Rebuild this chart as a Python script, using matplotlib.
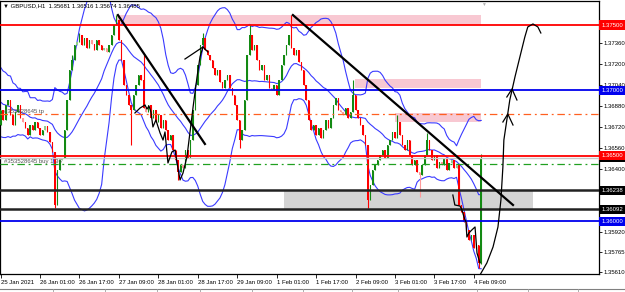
import numpy as np
import pandas as pd
import matplotlib.pyplot as plt
from matplotlib.patches import Rectangle
from matplotlib.lines import Line2D
import matplotlib.transforms as mtransforms

plt.rcParams['font.family'] = ['Liberation Sans', 'DejaVu Sans']

# GBPUSD H1 closes, 25 Jan 09:00 -> 4 Feb 12:00
closes = [
    1.36851, 1.36774, 1.36889, 1.36927, 1.36812, 1.36736, 1.36835, 1.36889, 1.36790, 1.36759,
    1.36713, 1.36660, 1.36736, 1.36698, 1.36759, 1.36713, 1.36660, 1.36698, 1.36728, 1.36683,
    1.36606, 1.36530, 1.36125, 1.36392, 1.36469, 1.36484, 1.36698, 1.36927, 1.37156, 1.37233,
    1.37347, 1.37370, 1.37424, 1.37347, 1.37401, 1.37324, 1.37385, 1.37355, 1.37309, 1.37385,
    1.37347, 1.37309, 1.37324, 1.37294, 1.37347, 1.37424, 1.37500, 1.37538, 1.37385, 1.37233,
    1.37042, 1.36965, 1.36889, 1.36851, 1.36965, 1.37042, 1.37118, 1.37080, 1.36866, 1.36835,
    1.36889, 1.36790, 1.36851, 1.36759, 1.36812, 1.36713, 1.36774, 1.36698, 1.36621, 1.36660,
    1.36545, 1.36469, 1.36377, 1.36430, 1.36408, 1.36545, 1.36484, 1.36621, 1.36851, 1.37042,
    1.37194, 1.37347, 1.37401, 1.37309, 1.37271, 1.37233, 1.37171, 1.37118, 1.37156, 1.37065,
    1.37019, 1.37080, 1.37118, 1.37019, 1.36965, 1.36889, 1.36774, 1.36621, 1.36698, 1.36927,
    1.37271, 1.37424, 1.37309, 1.37347, 1.37233, 1.37156, 1.37194, 1.37080, 1.37118, 1.37019,
    1.37003, 1.37042, 1.36965, 1.37080, 1.37194, 1.37271, 1.37347, 1.37424, 1.37324, 1.37271,
    1.37309, 1.37217, 1.37156, 1.37042, 1.36927, 1.36774, 1.36698, 1.36736, 1.36660, 1.36713,
    1.36637, 1.36698, 1.36774, 1.36713, 1.36790, 1.36889, 1.36942, 1.36851, 1.36835, 1.36812,
    1.36866, 1.36790, 1.36835, 1.36965, 1.36851, 1.36790, 1.36736, 1.36660, 1.36583, 1.36163,
    1.36278, 1.36392, 1.36430, 1.36469, 1.36507, 1.36545, 1.36484, 1.36583, 1.36621, 1.36683,
    1.36637, 1.36759, 1.36660, 1.36583, 1.36545, 1.36621, 1.36507, 1.36430, 1.36469, 1.36377,
    1.36354, 1.36430, 1.36507, 1.36621, 1.36545, 1.36469, 1.36507, 1.36408, 1.36453, 1.36430,
    1.36484, 1.36392, 1.36446, 1.36469, 1.36408, 1.36430, 1.36125, 1.36071, 1.35995, 1.35934,
    1.35857, 1.35896, 1.35796, 1.35819, 1.35681, 1.36485,
]
# bars before the visible window (needed for the bands)
warmup = [1.37118, 1.37003, 1.37080, 1.36927, 1.37156, 1.36965, 1.37042, 1.36851, 1.37003, 1.36774,
          1.36889, 1.37042, 1.36812, 1.36736, 1.36927, 1.36698, 1.36851, 1.36774, 1.36736]
wick_high = {29: 1.37271, 32: 1.37439, 47: 1.37576, 58: 1.37271, 82: 1.37439, 101: 1.37500,
             118: 1.37576, 143: 1.37080, 161: 1.36812, 173: 1.36675, 195: 1.36516}
wick_low = {22: 1.36102, 53: 1.36583, 72: 1.36316, 97: 1.36560, 149: 1.36102, 170: 1.36186,
            194: 1.35643, 195: 1.35674}

tick_bars = [0, 16, 32, 48, 64, 80, 96, 112, 128, 144, 160, 176, 192]
tick_labels = ["25 Jan 2021", "26 Jan 01:00", "26 Jan 17:00", "27 Jan 09:00", "28 Jan 01:00",
               "28 Jan 17:00", "29 Jan 09:00", "1 Feb 01:00", "1 Feb 17:00", "2 Feb 09:00",
               "3 Feb 01:00", "3 Feb 17:00", "4 Feb 09:00"]
price_ticks = [1.37360, 1.37200, 1.37040, 1.36880, 1.36720, 1.36560, 1.36400,
               1.35920, 1.35765, 1.35610]

# horizontal levels
res_levels = [1.37500, 1.36500]
blue_levels = [1.37000, 1.36000]
black_levels = [1.36238, 1.36092]
tp_price = 1.36819
buy_price = 1.36437
bid = 1.36485

# drawn objects (bar, price)
trend1 = [(47.6, 1.37576), (82.9, 1.36591)]
trend2 = [(118.6, 1.37576), (207.9, 1.36125)]
zig1 = [(54.5, 1.36828), (56.6, 1.36866), (58.6, 1.36889), (59.4, 1.36858), (60.2, 1.36881),
        (61.0, 1.36835), (61.8, 1.36721), (63.0, 1.36774), (64.7, 1.36675), (65.9, 1.36621),
        (66.7, 1.36683), (67.9, 1.36446), (69.5, 1.36530), (70.8, 1.36545), (71.6, 1.36446),
        (72.8, 1.36316), (74.0, 1.36369), (75.6, 1.36492), (76.8, 1.36675), (78.1, 1.36874),
        (79.7, 1.37103), (80.9, 1.37256), (82.1, 1.37332)]
zig1b = [(74.8, 1.37240), (82.1, 1.37332), (84.1, 1.37294)]
zig2 = [(183.5, 1.36201), (184.3, 1.36125), (186.4, 1.36117), (187.2, 1.36087), (188.0, 1.36033),
        (188.8, 1.35995), (189.2, 1.35880), (190.0, 1.35911), (191.2, 1.35934), (192.5, 1.35957),
        (192.9, 1.35857), (193.3, 1.35758), (194.5, 1.35682)]
curve = [(194.5, 1.35590), (197.3, 1.35682), (199.8, 1.35804), (201.8, 1.35957), (203.0, 1.36163),
         (203.8, 1.36415), (204.2, 1.36621), (205.4, 1.36774), (206.6, 1.36927), (208.7, 1.37103),
         (210.7, 1.37256), (212.7, 1.37408), (213.9, 1.37485), (216.0, 1.37508), (218.0, 1.37485),
         (219.2, 1.37439)]
head1 = [(203.8, 1.36759), (205.8, 1.36820), (207.9, 1.36736)]
head2 = [(205.4, 1.36950), (207.5, 1.37011), (209.5, 1.36927)]
# rectangles: bar start, bar end, low, high
pink_boxes = [(47.2, 194.9, 1.37500, 1.37576), (143.8, 194.9, 1.37018, 1.37087),
              (160.0, 194.9, 1.36759, 1.36828)]
gray_box = (115.0, 216.0, 1.36092, 1.36238)

n = len(closes)
opens = [warmup[-1]] + closes[:-1]
opens[-1] = 1.35681
highs = [wick_high.get(i, max(opens[i], closes[i])) for i in range(n)]
lows = [wick_low.get(i, min(opens[i], closes[i])) for i in range(n)]

s = pd.Series(warmup + closes)
mid = s.rolling(20).mean().to_numpy()[len(warmup):]
sd = s.rolling(20).std(ddof=0).to_numpy()[len(warmup):]

fig = plt.figure(figsize=(6.25, 2.92), dpi=100)
ax = fig.add_axes([0, 1 - 274 / 292, 599 / 625, 273 / 292])
ax.set_xlim(-0.25, 242.8)
ax.set_ylim(1.355976, 1.376834)

for x0, x1, lo, hi in pink_boxes:
    ax.add_patch(Rectangle((x0, lo), x1 - x0, hi - lo, facecolor='#f8c8d2', edgecolor='none', zorder=1))
x0, x1, lo, hi = gray_box
ax.add_patch(Rectangle((x0, lo), x1 - x0, hi - lo, facecolor='#d4d4d4', edgecolor='none', zorder=1))

idx = np.arange(n)
for band in [mid, mid + 2 * sd, mid - 2 * sd]:
    ax.plot(idx, band, color='#3a3aff', lw=0.8, zorder=2)

for i in range(n):
    o, c = opens[i], closes[i]
    small = abs(c - o) < 0.00035
    if c >= o:
        col = '#8fcf8f' if small else '#138a13'
    else:
        col = '#ff9a9a' if small else '#ff0000'
    ax.vlines(i, lows[i], highs[i], color=col, lw=0.8, zorder=3)
    ax.bar(i, c - o, bottom=o, width=0.6, color=col, lw=0, zorder=3)

for p in res_levels:
    ax.axhline(p, color='#ff0000', lw=1.3, zorder=4)
for p in blue_levels:
    ax.axhline(p, color='#0000ee', lw=1.3, zorder=4)
for p in black_levels:
    ax.axhline(p, color='#222222', lw=1.8, zorder=4)
ax.axhline(bid, color='#c8c8c8', lw=1, zorder=3.5)
ax.axhline(tp_price, color='#ff6020', lw=0.9, ls=(0, (6, 3, 1.5, 3)), zorder=4)
ax.axhline(buy_price, color='#20a020', lw=0.9, ls=(0, (6, 3, 1.5, 3)), zorder=4)
ax.text(1.5, tp_price + 0.00012, "#353528645 tp", fontsize=4.3, color='#555555', zorder=5)
ax.text(1.5, buy_price + 0.00012, "#353528645 buy 1.36", fontsize=4.3, color='#555555', zorder=5)

for line in [trend1, trend2]:
    xs, ys = zip(*line)
    ax.plot(xs, ys, color='black', lw=1.6, zorder=6)
for line in [zig1, zig1b, zig2, curve, head1, head2]:
    xs, ys = zip(*line)
    ax.plot(xs, ys, color='black', lw=0.9, zorder=6)

ax.yaxis.tick_right()
ax.set_yticks(price_ticks)
ax.set_yticklabels([f"{p:.5f}" for p in price_ticks])
ax.tick_params(axis='y', length=2, width=0.6, pad=1, labelsize=4.3)
ax.set_xticks(tick_bars)
ax.set_xticklabels(tick_labels, ha='left')
ax.tick_params(axis='x', length=3, width=0.6, pad=1.5, labelsize=4.3)
for sp in ax.spines.values():
    sp.set_linewidth(0.9)

tr = mtransforms.blended_transform_factory(ax.transAxes, ax.transData)
boxes = [(bid, '#000000'), (1.37500, '#ff0000'), (1.37000, '#0000ee'), (1.36500, '#ff0000'),
         (1.36238, '#000000'), (1.36092, '#000000'), (1.36000, '#0000ee')]
for p, col in boxes:
    ax.text(1.004, p, f"{p:.5f}", transform=tr, fontsize=4.3, color='white', va='center', ha='left',
            bbox=dict(boxstyle='square,pad=0.35', facecolor=col, edgecolor='none'), clip_on=False, zorder=7)

fig.text(3 / 625, 1 - 6 / 292, "\u25bc GBPUSD,H1  1.35681 1.36516 1.35674 1.36485",
         fontsize=4.3, va='center', ha='left')
fig.text(483 / 625, 1 - 4 / 292, "\u25bc", fontsize=3.5, color='#b0b0b0', va='center', ha='center')

# tab strip at the bottom of the window
fig.add_artist(Line2D([0, 1], [1 - 288.5 / 292] * 2, color='#808080', lw=0.8))
for xp in [53, 105, 157, 200, 252, 303, 352, 398, 477, 528, 578]:
    fig.add_artist(Line2D([xp / 625] * 2, [0, 1 - 288.5 / 292], color='#a0a0a0', lw=0.6))

fig.savefig("out.png", dpi=100)
